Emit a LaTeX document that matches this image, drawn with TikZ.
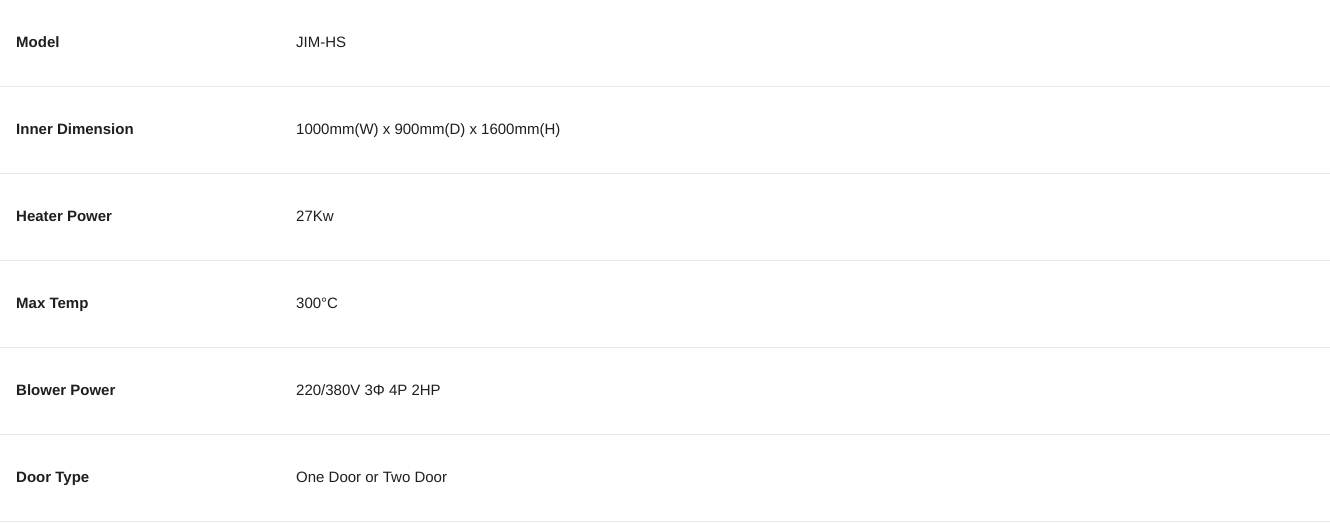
\documentclass[tikz,border=0pt]{standalone}
\usepackage{fontspec}
\setmainfont{Liberation Sans}
\begin{document}
\begin{tikzpicture}[x=1pt,y=-1pt,
  lbl/.style={anchor=base west,inner sep=0pt,font=\fontsize{15}{17}\selectfont\bfseries,text=black!88},
  val/.style={anchor=base west,inner sep=0pt,font=\fontsize{15}{17}\selectfont,text=black!88},
  sep/.style={draw=black!9,line width=1.2pt}]
\useasboundingbox[fill=white] (0,0) rectangle (1330,522);
\foreach \i/\l/\v in {0/Model/{JIM-HS},1/Inner Dimension/{1000mm(W) x 900mm(D) x 1600mm(H)},2/Heater Power/{27Kw},3/Max Temp/{300°C},4/Blower Power/{220/380V 3Φ 4P 2HP},5/Door Type/{One Door or Two Door}}{
  \node[lbl] (l\i) at (16,{47.5+87*\i}) {\l};
  \node[val] (v\i) at (296,{47.5+87*\i}) {\v};
  \coordinate (a\i) at (0,{86.5+87*\i});
  \coordinate (b\i) at (1330,{86.5+87*\i});
  \draw[sep] (a\i) -- (b\i);
}
\end{tikzpicture}
\end{document}
